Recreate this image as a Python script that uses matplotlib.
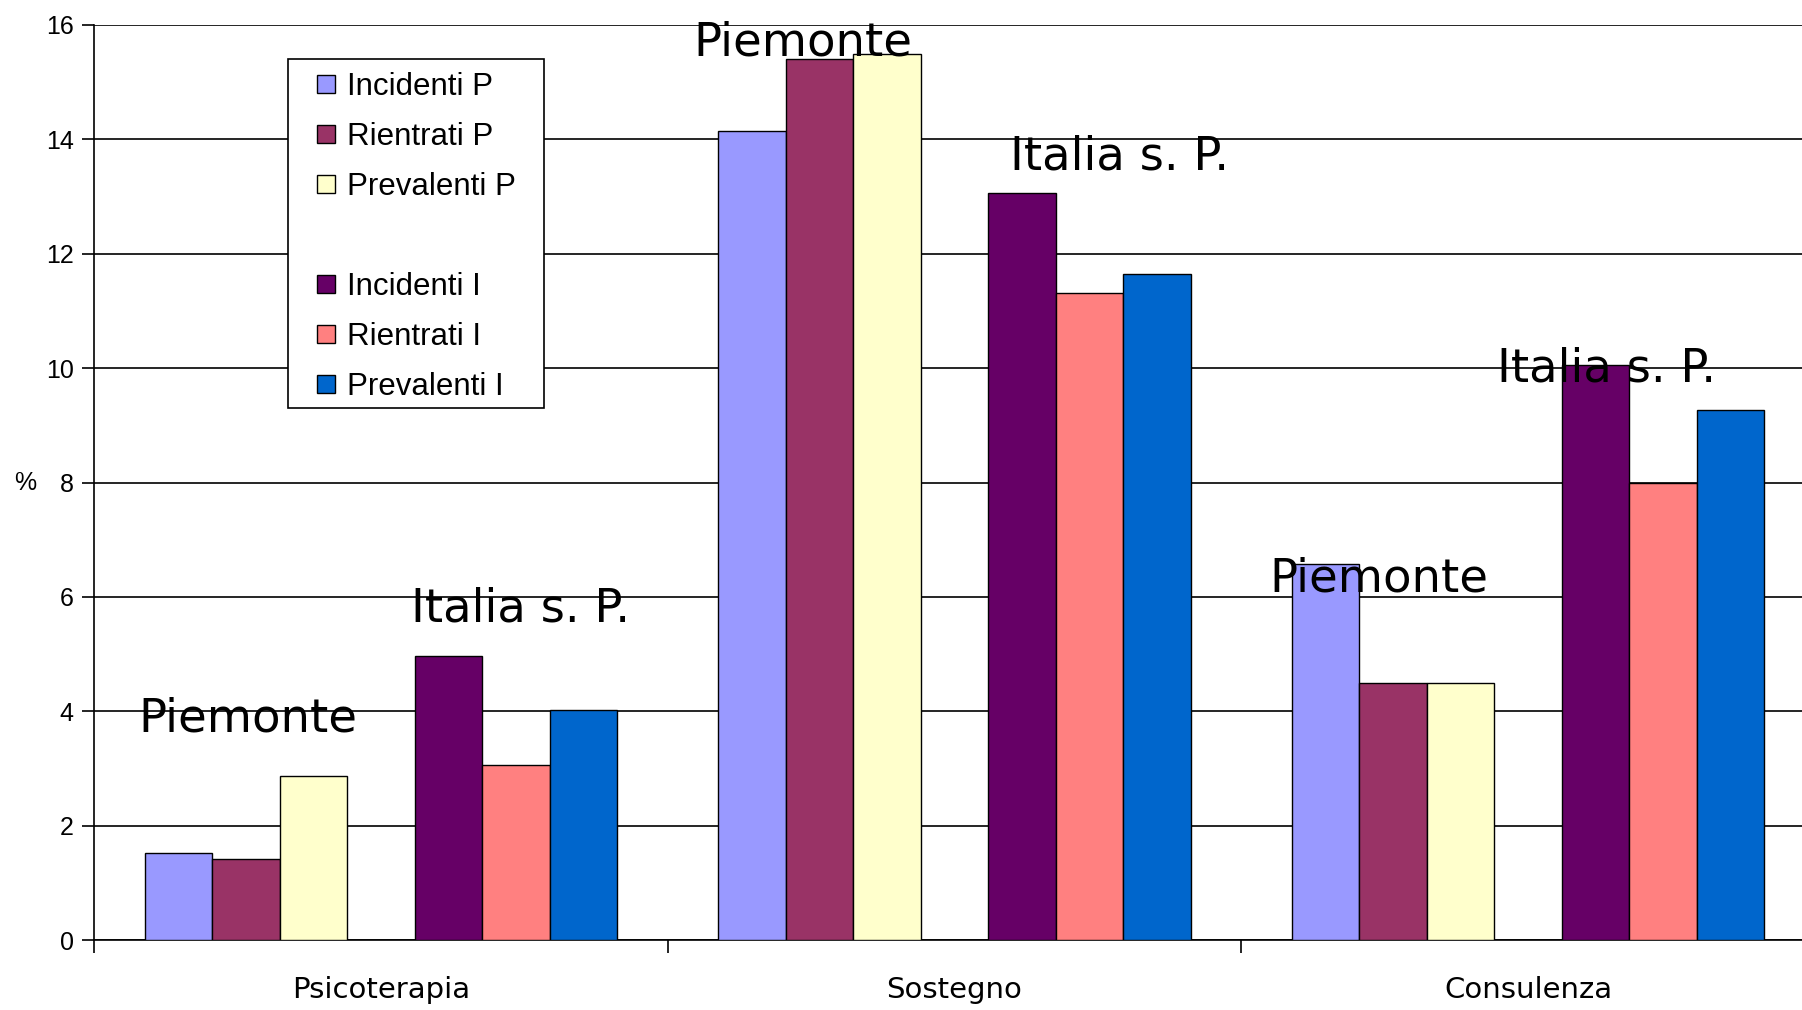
import numpy as np
import matplotlib
matplotlib.use("Agg")
import matplotlib.pyplot as plt
from matplotlib.lines import Line2D
from matplotlib.patches import Rectangle

#%% data

categories = ['Psicoterapia', 'Sostegno', 'Consulenza']
series_names = ['Incidenti P', 'Rientrati P', 'Prevalenti P', '',
                'Incidenti I', 'Rientrati I', 'Prevalenti I']
series_colors = ['#9999FF', '#993366', '#FFFFCC', 'none',
                 '#660066', '#FF8080', '#0066CC']

incidenti_p = [1.53, 14.15, 6.57]
rientrati_p = [1.41, 15.40, 4.50]
prevalenti_p = [2.87, 15.50, 4.50]
blank = [0, 0, 0]
incidenti_i = [4.96, 13.07, 10.05]
rientrati_i = [3.06, 11.32, 8.00]
prevalenti_i = [4.02, 11.64, 9.27]

series_values = [incidenti_p, rientrati_p, prevalenti_p, blank,
                 incidenti_i, rientrati_i, prevalenti_i]

# group captions placed over the bars (text, x in category units, baseline value)
group_labels = ['Piemonte', 'Italia s. P.', 'Piemonte', 'Italia s. P.', 'Piemonte', 'Italia s. P.']
group_label_x = [0.268, 0.744, 1.236, 1.788, 2.240, 2.637]
group_label_y = [3.64, 5.57, 15.46, 13.47, 6.09, 9.77]

yticks = [0, 2, 4, 6, 8, 10, 12, 14, 16]

#%% plot

W, H = 1802, 1010
fig = plt.figure(figsize=(W / 100, H / 100), dpi=100)
# the plot area runs past the right edge of the picture, as in the original
ax = fig.add_axes([94 / W, 70 / H, 1721 / W, 915 / H])

width = 1 / 8.5  # excel gap width 150 %
centers = np.arange(len(categories)) + 0.5
for k, (vals, col) in enumerate(zip(series_values, series_colors)):
    if col == 'none':
        continue
    ax.bar(centers + (k - 3) * width, vals, width=width, color=col,
           edgecolor='black', linewidth=1.0, zorder=3)

for txt, x, y in zip(group_labels, group_label_x, group_label_y):
    ax.text(x, y, txt, ha='center', va='baseline', fontsize=33.5,
            family='DejaVu Sans', zorder=5)

ax.set_xlim(0, 3)
ax.set_ylim(0, 16)
ax.set_yticks(yticks)
ax.set_yticklabels([str(t) for t in yticks], fontsize=18, family='Liberation Sans')
ax.yaxis.grid(True, color='black', linewidth=1.2, zorder=0)
ax.set_axisbelow(True)

ax.set_xticks([0, 1, 2, 3])
ax.set_xticklabels([])
ax.set_xticks(centers, minor=True)
ax.set_xticklabels(categories, minor=True, fontsize=21, family='DejaVu Sans')
ax.tick_params(axis='x', which='minor', length=0, pad=26)
ax.tick_params(axis='x', which='major', length=9, width=1.2, direction='out')
ax.tick_params(axis='y', length=9, width=1.2, direction='out', pad=5.5)

for s in ['top', 'right']:
    ax.spines[s].set_visible(False)
for s in ['left', 'bottom']:
    ax.spines[s].set_linewidth(1.2)
    ax.spines[s].set_color('black')

fig.text(25 / W, 1 - 483 / H, '%', fontsize=18, family='Liberation Sans',
         ha='center', va='center')

# legend: frame drawn separately so its size matches the original box
box = Rectangle((288 / W, 1 - 408 / H), 256 / W, 349 / H,
                transform=fig.transFigure, facecolor='white',
                edgecolor='black', linewidth=1.2, zorder=5, clip_on=False)
ax.add_patch(box)
handles = []
for col in series_colors:
    if col == 'none':
        handles.append(Line2D([], [], linestyle='none', marker='none'))
    else:
        handles.append(Line2D([], [], linestyle='none', marker='s', markersize=13,
                              markerfacecolor=col, markeredgecolor='black',
                              markeredgewidth=1.0))
leg = ax.legend(handles, series_names, loc='upper left', numpoints=1,
                bbox_to_anchor=(315 / W, 1 - 72 / H), bbox_transform=fig.transFigure,
                prop={'family': 'Liberation Sans', 'size': 22.5},
                frameon=False, handlelength=0.72, handletextpad=0.3,
                labelspacing=0.64, borderpad=0, borderaxespad=0)
leg.set_zorder(6)

fig.savefig('out.png', dpi=100)
